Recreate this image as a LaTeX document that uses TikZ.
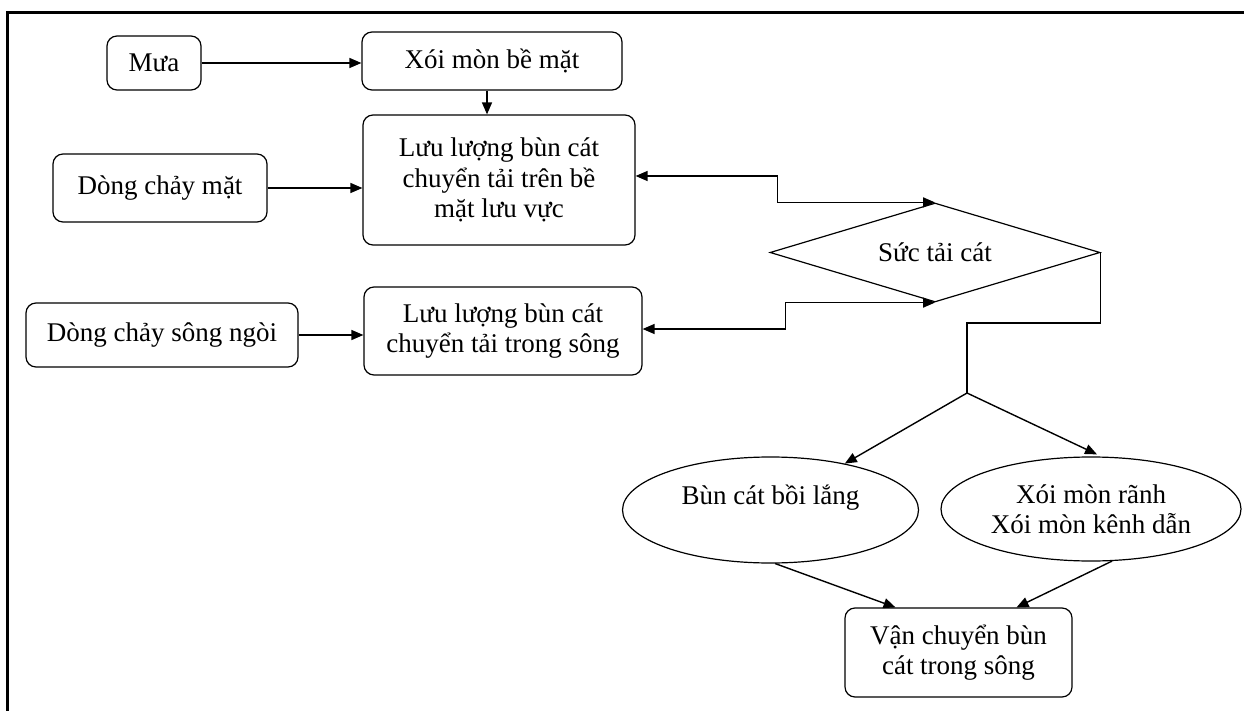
\documentclass[tikz,border=0pt]{standalone}
\usepackage{fontspec}
\setmainfont{Liberation Serif}
\usetikzlibrary{shapes.geometric,arrows.meta,calc}
\tikzset{
  box/.style={draw=black, line width=1.2pt, rounded corners=10pt, align=center, inner sep=0pt},
  ell/.style={draw=black, line width=1.2pt, ellipse, align=center, inner sep=0pt},
  dia/.style={draw=black, line width=1.2pt, diamond, aspect=3.3, inner sep=0pt, align=center},
  conn/.style={line width=1.4pt},
  arr/.style={conn, -{Triangle[length=12pt,width=10pt]}},
  darr/.style={conn, {Triangle[length=12pt,width=10pt]}-{Triangle[length=12pt,width=10pt]}},
}
\begin{document}
\begin{tikzpicture}[x=1pt,y=-1pt,font=\fontsize{27}{30.5}\selectfont]
\useasboundingbox (0,0) rectangle (1244,711);
% frame
\draw[line width=3pt] (6,13) coordinate (f1) -- (1244,13) coordinate (f2);
\draw[line width=3pt] (7,11.5) coordinate (f3) -- (7,711) coordinate (f4);
% nodes
\node[box, minimum width=94pt, minimum height=54pt] (mua) at (154,63) {Mưa};
\node[box, minimum width=260pt, minimum height=58pt] (xoi) at (492,61) {Xói mòn bề mặt};
\node[box, minimum width=272pt, minimum height=130pt] (luu1) at (499,180) {Lưu lượng bùn cát\\chuyển tải trên bề\\mặt lưu vực};
\node[box, minimum width=214pt, minimum height=68pt] (dcm) at (160,188) {Dòng chảy mặt};
\node[dia, minimum width=330pt, minimum height=99pt] (dia) at (935,252.5) {Sức tải cát};
\node[box, minimum width=272pt, minimum height=64pt] (dcsn) at (162,335) {Dòng chảy sông ngòi};
\node[box, minimum width=278pt, minimum height=88pt] (luu2) at (503,331) {Lưu lượng bùn cát\\chuyển tải trong sông};
\node[ell, minimum width=296pt, minimum height=106pt] (e1) at (770.5,510) {Bùn cát bồi lắng\\\phantom{X}};
\node[ell, minimum width=300pt, minimum height=104pt] (e2) at (1091,509) {Xói mòn rãnh\\Xói mòn kênh dẫn};
\node[box, minimum width=227pt, minimum height=89pt] (vc) at (958.5,652.5) {Vận chuyển bùn\\cát trong sông};
\coordinate (br) at (967,393);
% connectors
\draw[arr] (mua.east) -- (mua.east -| xoi.west);
\draw[arr] ($(xoi.south)+(-5,0)$) -- ($(xoi.south |- luu1.north)+(-5,0)$);
\draw[arr] (dcm.east) -- (dcm.east -| luu1.west);
\draw[arr] (dcsn.east) -- (dcsn.east -| luu2.west);
\draw[darr] ($(luu1.east)+(0,-4)$) -- ++(142,0) |- (dia.north);
\draw[darr] ($(luu2.east)+(0,-2)$) -- ++(143,0) |- (dia.south);
\draw[conn] (dia.east) -- ++(0,70.5) -| (br);
\draw[arr] (br) -- (e1.32);
\draw[arr] (br) -- ($(e2.north)+(6,-2)$);
\draw[arr] (e1.-85) -- ($(vc.north)+(-63,0)$);
\draw[arr] (e2.-68) -- ($(vc.north)+(58,0)$);
\end{tikzpicture}
\end{document}
